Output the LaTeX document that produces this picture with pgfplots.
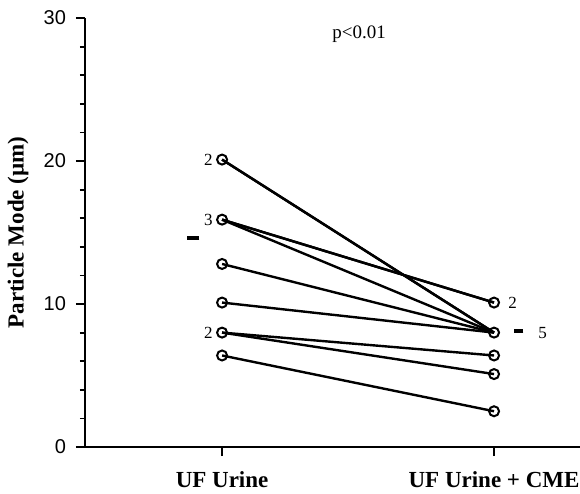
\documentclass[border=0pt]{standalone}
\usepackage{fontspec}
\setmainfont{Liberation Serif}
\setsansfont{Liberation Sans}
\usepackage{pgfplots}
\pgfplotsset{compat=1.18}

\begin{document}
\begin{tikzpicture}
\useasboundingbox (-42.5pt,-23.5pt) rectangle (247.5pt,223.5pt);
\begin{axis}[
  at={(0,0)}, anchor=south west,
  scale only axis, width=247.5pt, height=214.5pt,
  xmin=0.496, xmax=2.316, ymin=0, ymax=30,
  axis x line=bottom, axis y line=left,
  axis line style={-, line width=1pt},
  xtick={1,2}, xticklabels={UF Urine, UF Urine + CME},
  ytick={0,10,20,30}, minor y tick num=4,
  tick align=outside, major tick length=4.5pt, minor tick length=2.5pt,
  tick style={black, line width=0.9pt},
  xticklabel style={font=\bfseries\fontsize{11.5}{13}\selectfont, yshift=-4pt},
  yticklabel style={font=\sffamily\fontsize{10}{12}\selectfont, xshift=-1.5pt},
  /pgf/number format/assume math mode=true,
  ylabel={Particle Mode (µm)},
  ylabel style={font=\bfseries\fontsize{11.5}{13}\selectfont,
    at={(axis description cs:-0.135,0.5)}, anchor=center},
  every axis plot/.append style={black, line width=1.2pt},
  clip=false,
]
% individual subjects (UF urine -> UF urine + CME)
\addplot[no marks] coordinates {(1,20.1) (2,8.0)};
\addplot[no marks] coordinates {(1,20.1) (2,8.0)};
\addplot[no marks] coordinates {(1,15.9) (2,10.1)};
\addplot[no marks] coordinates {(1,15.9) (2,10.1)};
\addplot[no marks] coordinates {(1,15.9) (2,8.0)};
\addplot[no marks] coordinates {(1,12.8) (2,8.0)};
\addplot[no marks] coordinates {(1,10.1) (2,8.0)};
\addplot[no marks] coordinates {(1,8.0) (2,6.4)};
\addplot[no marks] coordinates {(1,8.0) (2,5.1)};
\addplot[no marks] coordinates {(1,6.4) (2,2.5)};
% open circles
\addplot[only marks, mark=o, mark size=2.5pt, mark options={fill=white, line width=1pt}]
  coordinates {(1,20.1) (1,15.9) (1,12.8) (1,10.1) (1,8.0) (1,6.4)
               (2,10.1) (2,8.0) (2,6.4) (2,5.1) (2,2.5)};
% means
\addplot[only marks, mark=-, mark size=3.2pt, mark options={line width=2pt}]
  coordinates {(0.893,14.6)};
\addplot[only marks, mark=-, mark size=2.4pt, mark options={line width=2pt}]
  coordinates {(2.09,8.1)};
% counts and p value
\node[anchor=east, font=\fontsize{8.5}{9}\selectfont, inner sep=0pt] at (axis cs:1,20.1) [xshift=-4.5pt] {2};
\node[anchor=east, font=\fontsize{8.5}{9}\selectfont, inner sep=0pt] at (axis cs:1,15.9) [xshift=-4.5pt] {3};
\node[anchor=east, font=\fontsize{8.5}{9}\selectfont, inner sep=0pt] at (axis cs:1,8.0) [xshift=-4.5pt] {2};
\node[anchor=west, font=\fontsize{8.5}{9}\selectfont, inner sep=0pt] at (axis cs:2,10.1) [xshift=7pt] {2};
\node[anchor=west, font=\fontsize{8.5}{9}\selectfont, inner sep=0pt] at (axis cs:2,8.0) [xshift=22pt] {5};
\node[font=\fontsize{9.5}{11}\selectfont] at (axis cs:1.504,28.9) {p<0.01};
\end{axis}
\end{tikzpicture}
\end{document}
